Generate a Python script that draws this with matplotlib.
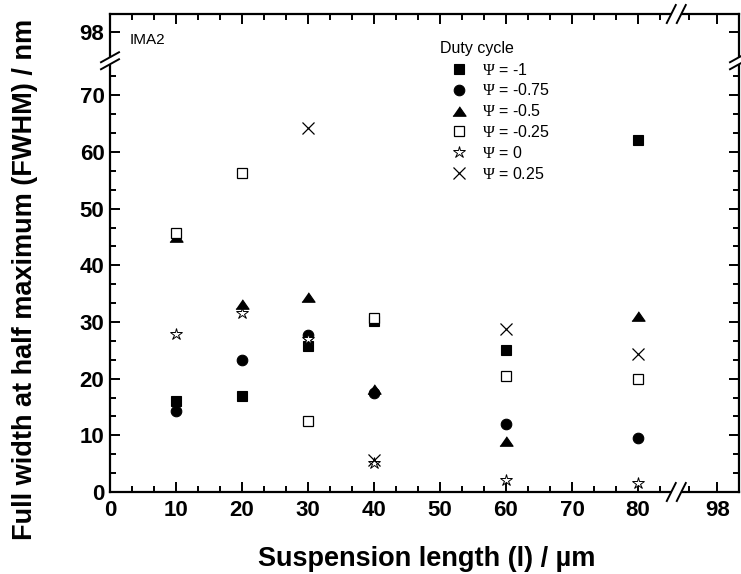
import matplotlib
matplotlib.use("Agg")
import matplotlib.pyplot as plt
import numpy as np
from matplotlib.lines import Line2D
from matplotlib.transforms import IdentityTransform

plt.rcParams["font.family"] = ["Liberation Sans", "DejaVu Sans"]
plt.rcParams["mathtext.fontset"] = "custom"
plt.rcParams["mathtext.rm"] = "Liberation Serif"

# Suspension length (um) and FWHM (nm) for each duty cycle
length = [10, 20, 30, 40, 60, 80]
fwhm_m100 = [16.0, 17.0, 25.8, 30.2, 25.0, 62.2]
fwhm_m075 = [14.3, 23.3, 27.7, 17.5, 12.0, 9.5]
fwhm_m050 = [45.0, 33.2, 34.4, 18.2, 9.0, 31.0]
fwhm_m025 = [45.7, 56.3, 12.5, 30.7, 20.5, 20.0]
fwhm_p000 = [27.8, 31.5, 27.0, 5.2, 2.2, 1.5]
length_p025 = [30, 40, 60, 80]
fwhm_p025 = [64.3, 5.7, 28.7, 24.3]

duty_labels = [r"$\mathrm{\Psi}$ = -1", r"$\mathrm{\Psi}$ = -0.75", r"$\mathrm{\Psi}$ = -0.5",
               r"$\mathrm{\Psi}$ = -0.25", r"$\mathrm{\Psi}$ = 0", r"$\mathrm{\Psi}$ = 0.25"]

# broken axes: values past the break are shifted onto the compressed segment
X_BREAK, X_SHIFT = 86.0, 6.0
Y_BREAK, Y_SHIFT = 76.0, 16.9


def to_x(v):
    v = np.asarray(v, float)
    return np.where(v > X_BREAK, v - X_SHIFT, v)


def to_y(v):
    v = np.asarray(v, float)
    return np.where(v > Y_BREAK, v - Y_SHIFT, v)


W, H = 741, 574
fig = plt.figure(figsize=(W / 100, H / 100), dpi=100)
ax = fig.add_axes([110 / W, 1 - 492 / H, 629 / W, 478 / H])
ax.set_xlim(0, 629 / 6.6)
ax.set_ylim(0, 478 / 5.667)

tri = [(-1, -0.72), (1, -0.72), (0, 0.72)]
styles = [
    dict(marker="s", ms=7.0, mfc="black", mec="black", mew=0.8),
    dict(marker="o", ms=7.6, mfc="black", mec="black", mew=0.8),
    dict(marker=tri, ms=9.5, mfc="black", mec="black", mew=0.8),
    dict(marker="s", ms=7.0, mfc="white", mec="black", mew=0.9),
    dict(marker="*", ms=9.0, mfc="white", mec="black", mew=0.7),
    dict(marker="x", ms=8.0, mfc="none", mec="black", mew=0.9),
]
series = [(length, fwhm_m100), (length, fwhm_m075), (length, fwhm_m050),
          (length, fwhm_m025), (length, fwhm_p000), (length_p025, fwhm_p025)]

handles = []
for (xs, ys), st, lab in zip(series, styles, duty_labels):
    h, = ax.plot(to_x(xs), to_y(ys), linestyle="none", label=lab, clip_on=False, **st)
    handles.append(h)

# ticks
x_major = [0, 10, 20, 30, 40, 50, 60, 70, 80, 98]
y_major = [0, 10, 20, 30, 40, 50, 60, 70, 98]
ax.set_xticks(to_x(x_major))
ax.set_xticklabels([str(v) for v in x_major])
ax.set_yticks(to_y(y_major))
ax.set_yticklabels([str(v) for v in y_major])
x_minor = [v for v in np.arange(0, 84, 10 / 3) if abs(v / 10 - round(v / 10)) > 1e-6] + [87.7]
y_minor = [v for v in np.arange(0, 74, 10 / 3) if abs(v / 10 - round(v / 10)) > 1e-6]
ax.set_xticks(x_minor, minor=True)
ax.set_yticks(y_minor, minor=True)
ax.tick_params(which="both", direction="in", top=True, right=True, width=1.4)
ax.tick_params(which="major", length=7.5, labelsize=16)
ax.tick_params(axis="x", which="major", pad=6)
ax.tick_params(axis="y", which="major", pad=4)
ax.tick_params(which="minor", length=4)
for lab in ax.get_xticklabels() + ax.get_yticklabels():
    lab.set_fontweight("bold")
for sp in ax.spines.values():
    sp.set_linewidth(1.6)

fig.text(427 / W, 1 - 566 / H, "Suspension length (l) / µm", ha="center", va="baseline",
         fontsize=19.5, fontweight="bold")
fig.text(25 / W, 1 - 279 / H, "Full width at half maximum (FWHM) / nm", ha="center",
         va="center", rotation=90, fontsize=19.5, fontweight="bold")
fig.text(130 / W, 1 - 40 / H, "IMA2", ha="left", va="center", fontsize=11)

leg = ax.legend(handles=handles, title="Duty cycle", loc="upper left",
                bbox_to_anchor=(440 / W, 1 - 41 / H), bbox_transform=fig.transFigure,
                frameon=False, fontsize=11.5, title_fontsize=11.5, borderpad=0,
                handlelength=2.4, handletextpad=0.2, labelspacing=0.3,
                alignment="left", borderaxespad=0)
leg._legend_box.sep = 4


# break marks drawn in pixel space
def break_mark(cx, cy, horizontal):
    T = IdentityTransform()
    if horizontal:
        fig.add_artist(Line2D([cx - 5, cx + 5], [cy, cy], color="white", lw=3.5,
                              transform=T, solid_capstyle="butt"))
        for s in (-1, 1):
            ox = cx + s * 5
            fig.add_artist(Line2D([ox - 4.5, ox + 4.5], [cy - 9, cy + 9], color="black",
                                  lw=1.4, transform=T))
    else:
        fig.add_artist(Line2D([cx, cx], [cy - 3.5, cy + 3.5], color="white", lw=3.5,
                              transform=T, solid_capstyle="butt"))
        for s in (-1, 1):
            oy = cy + s * 3.5
            fig.add_artist(Line2D([cx - 9, cx + 9], [oy - 5, oy + 5], color="black",
                                  lw=1.4, transform=T))


bx, _ = ax.transData.transform((X_BREAK - 0.2, 0))
_, by = ax.transData.transform((0, Y_BREAK + 0.1))
x0, y0 = ax.transData.transform((0, 0))
x1, y1 = ax.transData.transform(ax.get_xlim()[1:] + ax.get_ylim()[1:])
break_mark(bx, y0, True)
break_mark(bx, y1, True)
break_mark(x0, by, False)
break_mark(x1, by, False)

fig.savefig("out.png", dpi=100)
